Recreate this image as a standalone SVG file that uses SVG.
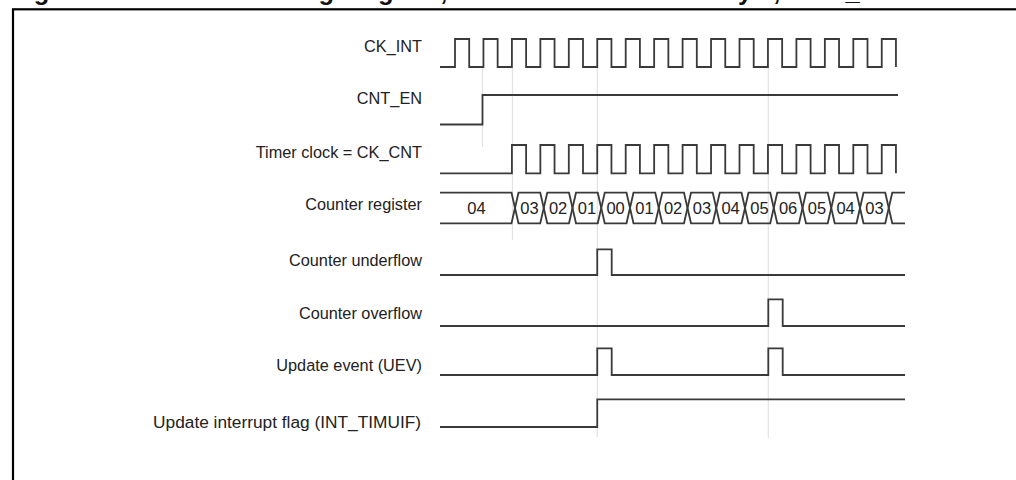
<svg xmlns="http://www.w3.org/2000/svg" width="1016" height="480" viewBox="0 0 1016 480">
<style>
.lbl{font-family:"Liberation Sans",Arial,sans-serif;font-size:16.3px;fill:#222;text-anchor:end}
.big{font-size:17.3px}
.val{font-family:"Liberation Sans",Arial,sans-serif;font-size:16.5px;fill:#222;text-anchor:middle}
.title{font-family:"Liberation Sans",Arial,sans-serif;font-size:25.5px;font-weight:bold;fill:#111}
.wave{fill:none;stroke:#3a3a3a;stroke-width:1.8;stroke-linejoin:miter}
.guide{stroke:#e2e2e2;stroke-width:1.2}
</style>
<rect width="1016" height="480" fill="#fff"/>
<text class="title" x="11" y="0">Figure 128. Counter timing diagram, internal clock divided by 1, TIMx_ARR = 0x6</text>
<rect x="13" y="9.3" width="1020" height="490" fill="none" stroke="#000" stroke-width="2.2"/>
<g id="guides">
<line class="guide" x1="482.5" y1="68" x2="482.5" y2="147"/>
<line class="guide" x1="512.5" y1="68" x2="512.5" y2="240"/>
<line class="guide" x1="597.3" y1="68" x2="597.3" y2="437"/>
<line class="guide" x1="768.3" y1="68" x2="768.3" y2="438"/>
</g>
<g id="ck_int">
<text class="lbl" x="422" y="51.5">CK_INT</text>
<path class="wave" d="M440,67H455V39H469.2V67H483.45V39H497.65V67H511.9V39H526.1V67H540.35V39H554.55V67H568.8V39H583V67H597.25V39H611.45V67H625.7V39H639.9V67H654.15V39H668.35V67H682.6V39H696.8V67H711.05V39H725.25V67H739.5V39H753.7V67H767.95V39H782.15V67H796.4V39H810.6V67H824.85V39H839.05V67H853.3V39H867.5V67H881.75V39H895.95V67"/>
</g>
<g id="cnt_en">
<text class="lbl" x="422" y="103.5">CNT_EN</text>
<path class="wave" d="M440,124.5H482.5V95H898"/>
</g>
<g id="ck_cnt">
<text class="lbl" x="422" y="157.5">Timer clock = CK_CNT</text>
<path class="wave" d="M440,173.3H511.9V145H526.1V173.3H540.35V145H554.55V173.3H568.8V145H583V173.3H597.25V145H611.45V173.3H625.7V145H639.9V173.3H654.15V145H668.35V173.3H682.6V145H696.8V173.3H711.05V145H725.25V173.3H739.5V145H753.7V173.3H767.95V145H782.15V173.3H796.4V145H810.6V173.3H824.85V145H839.05V173.3H853.3V145H867.5V173.3H881.75V145H895.95V173.3"/>
</g>
<g id="counter_register">
<text class="lbl" x="422" y="209.5">Counter register</text>
<path class="wave" d="M440,192.7L511.5,192.7L518.5,223.3L540.25,223.3L547.25,192.7L569,192.7L576,223.3L597.75,223.3L604.75,192.7L626.5,192.7L633.5,223.3L655.25,223.3L662.25,192.7L684,192.7L691,223.3L712.75,223.3L719.75,192.7L741.5,192.7L748.5,223.3L770.25,223.3L777.25,192.7L799,192.7L806,223.3L827.75,223.3L834.75,192.7L856.5,192.7L863.5,223.3L885.25,223.3L892.25,192.7L905,192.7"/>
<path class="wave" d="M440,223.3L511.5,223.3L518.5,192.7L540.25,192.7L547.25,223.3L569,223.3L576,192.7L597.75,192.7L604.75,223.3L626.5,223.3L633.5,192.7L655.25,192.7L662.25,223.3L684,223.3L691,192.7L712.75,192.7L719.75,223.3L741.5,223.3L748.5,192.7L770.25,192.7L777.25,223.3L799,223.3L806,192.7L827.75,192.7L834.75,223.3L856.5,223.3L863.5,192.7L885.25,192.7L892.25,223.3L905,223.3"/>
<text class="val" x="476.5" y="214">04</text>
<text class="val" x="529.4" y="214">03</text>
<text class="val" x="558.1" y="214">02</text>
<text class="val" x="586.9" y="214">01</text>
<text class="val" x="615.6" y="214">00</text>
<text class="val" x="644.4" y="214">01</text>
<text class="val" x="673.1" y="214">02</text>
<text class="val" x="701.9" y="214">03</text>
<text class="val" x="730.6" y="214">04</text>
<text class="val" x="759.4" y="214">05</text>
<text class="val" x="788.1" y="214">06</text>
<text class="val" x="816.9" y="214">05</text>
<text class="val" x="845.6" y="214">04</text>
<text class="val" x="874.4" y="214">03</text>
</g>
<g id="underflow">
<text class="lbl" x="422" y="265.5">Counter underflow</text>
<path class="wave" d="M440,275H597.25V249.3H611.7V275H905"/>
</g>
<g id="overflow">
<text class="lbl" x="422" y="318.5">Counter overflow</text>
<path class="wave" d="M440,326H768.3V299.3H782.7V326H905"/>
</g>
<g id="uev">
<text class="lbl" x="422" y="370.5">Update event (UEV)</text>
<path class="wave" d="M440,375H597.25V348.3H611.7V375H768.3V348.3H782.7V375H905"/>
</g>
<g id="uif">
<text class="lbl big" x="421" y="428">Update interrupt flag (INT_TIMUIF)</text>
<path class="wave" d="M440,427H597.25V399.3H905"/>
</g>
</svg>
